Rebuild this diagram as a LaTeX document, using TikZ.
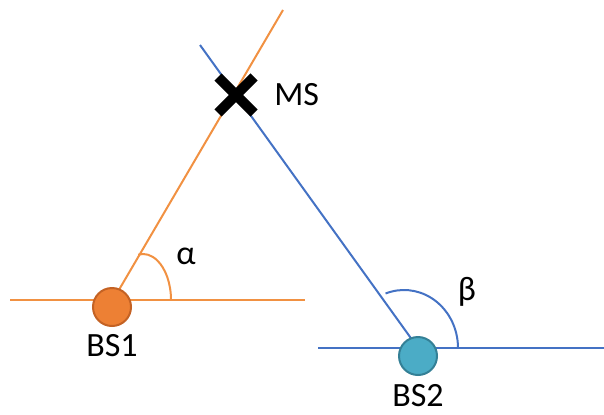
\documentclass[tikz,border=0pt]{standalone}
\usepackage{fontspec}
\setmainfont{Carlito}
\usetikzlibrary{positioning,shapes.misc}
\definecolor{orangeline}{RGB}{241,145,66}
\definecolor{orangefill}{RGB}{237,128,52}
\definecolor{orangeedge}{RGB}{196,98,36}
\definecolor{blueline}{RGB}{68,114,196}
\definecolor{bluefill}{RGB}{75,172,198}
\definecolor{blueedge}{RGB}{52,128,150}

\begin{document}
\begin{tikzpicture}[
  x=0.5pt, y=0.5pt, font=\fontsize{17}{20}\selectfont,
  oline/.style={draw=orangeline, line width=1pt},
  bline/.style={draw=blueline, line width=1pt},
  bsdot/.style={circle, line width=1pt, minimum size=19pt, inner sep=0pt},
  msmark/.style={cross out, draw=black, line width=5pt, minimum size=13pt, inner sep=0pt},
  lbl/.style={inner sep=0pt},
]
\useasboundingbox (0,0) rectangle (604,414);
% base points and free ends
\coordinate (c1) at (112,107);
\coordinate (c2) at (418,58);
\coordinate (h1l) at (10,114);
\coordinate (h1r) at (305,114);
\coordinate (h2l) at (318,66);
\coordinate (h2r) at (604,66);
\coordinate (top1) at (283,404);
\coordinate (top2) at (200,369);
\coordinate (a1) at (171,114);
\coordinate (b2) at (458,66);
% orange lines of BS1
\draw[oline] (h1l) -- (h1r);
\draw[oline] (113,114) -- (top1);
\draw[oline] (a1) arc[start angle=0, end angle=100, x radius=14pt, y radius=23pt];
% blue lines of BS2
\draw[bline] (h2l) -- (h2r);
\draw[bline] (418,66) -- (top2);
\draw[bline] (b2) arc[start angle=0, end angle=110, x radius=27pt, y radius=29pt];
% stations
\node[bsdot, fill=orangefill, draw=orangeedge] (bs1) at (c1) {};
\node[bsdot, fill=bluefill, draw=blueedge] (bs2) at (c2) {};
\node[lbl, below=3.5pt of bs1] (bs1lbl) {BS1};
\node[lbl, below=4pt of bs2] (bs2lbl) {BS2};
% mobile station
\node[msmark] (ms) at (236,319) {};
\node[lbl, right=10pt of ms] (mslbl) {MS};
% angles
\node[lbl] (alpha) at (186,158) {α};
\node[lbl] (beta) at (467,122) {β};
\end{tikzpicture}
\end{document}
